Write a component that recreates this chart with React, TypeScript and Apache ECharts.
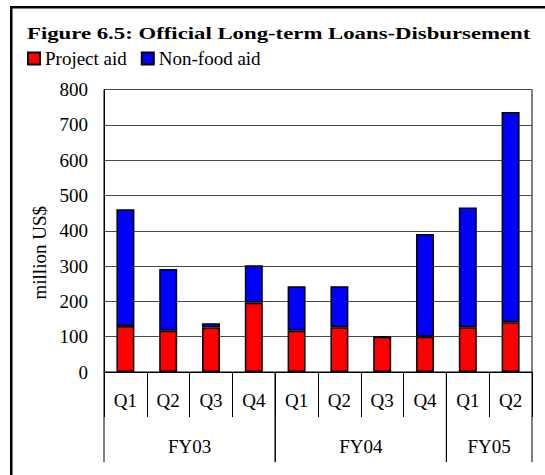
import React, { useEffect, useRef } from "react";
import * as echarts from "echarts";

const quarters = ["Q1", "Q2", "Q3", "Q4", "Q1", "Q2", "Q3", "Q4", "Q1", "Q2"];
const projectAid = [130, 117, 126, 196, 117, 127, 100, 100, 127, 141];
const nonFoodAid = [331, 175, 12, 106, 126, 116, 0, 291, 339, 595];
const fiscalYears = ["FY03", "FY04", "FY05"];
const quartersPerYear = [4, 4, 2];
const seriesNames = ["Project aid", "Non-food aid"];
const yTicks = { min: 0, max: 800, interval: 100 };

const FONT = "Liberation Serif";
const FS = 19;

export default function App() {
  const ref = useRef<HTMLDivElement>(null);

  useEffect(() => {
    if (!ref.current) return;
    const chart = echarts.init(ref.current, null, { renderer: "svg" });

    const groupData: number[][] = [];
    let start = 0;
    quartersPerYear.forEach((n) => {
      groupData.push([start, 0, start + n - 1]);
      start += n;
    });

    const legendText = { fontFamily: FONT, fontSize: FS, color: "#000", fontWeight: "normal" };

    chart.setOption({
      animation: false,
      backgroundColor: "#fff",
      textStyle: { fontFamily: FONT, color: "#000" },
      legend: {
        data: seriesNames.map((n) => ({ name: n, textStyle: legendText })),
        left: 27,
        top: 49,
        padding: 0,
        itemWidth: 12,
        itemHeight: 12,
        itemGap: 14,
        icon: "rect",
        textStyle: legendText,
      },
      graphic: [
        {
          type: "rect",
          silent: true,
          z: -10,
          shape: { x: 11.25, y: 7.25, width: 700, height: 700 },
          style: { fill: "none", stroke: "#000", lineWidth: 2.5 },
        },
        {
          type: "text",
          silent: true,
          x: 27,
          y: 25,
          scaleX: 1.34,
          style: {
            text: "Figure 6.5: Official Long-term Loans-Disbursement",
            fontFamily: FONT,
            fontSize: 17,
            fontWeight: "bold",
            fill: "#000",
            textAlign: "left",
            textVerticalAlign: "top",
          },
        },
      ],
      grid: {
        left: 104,
        right: 13,
        top: 89.5,
        bottom: 103,
        show: true,
        borderColor: "#000",
        borderWidth: 1,
        backgroundColor: "transparent",
      },
      xAxis: {
        type: "category",
        data: quarters,
        axisLine: { show: true, lineStyle: { color: "#000", width: 1 } },
        axisTick: { show: true, interval: 0, length: 45, lineStyle: { color: "#000", width: 1 } },
        axisLabel: { interval: 0, margin: 19, fontFamily: FONT, fontSize: FS, color: "#000" },
      },
      yAxis: {
        type: "value",
        min: yTicks.min,
        max: yTicks.max,
        interval: yTicks.interval,
        name: "million US$",
        nameLocation: "middle",
        nameRotate: 90,
        nameGap: 54,
        nameTextStyle: { fontFamily: FONT, fontSize: FS, color: "#000", padding: [0, 44, 0, 0] },
        axisLine: { show: true, lineStyle: { color: "#000", width: 1 } },
        axisTick: { show: false },
        axisLabel: { margin: 16, fontFamily: FONT, fontSize: FS, color: "#000" },
        splitLine: { show: true, lineStyle: { color: "#4a4a4a", width: 1 } },
      },
      series: [
        {
          name: seriesNames[0],
          type: "bar",
          stack: "total",
          barWidth: "42%",
          data: projectAid,
          itemStyle: { color: "#ff0000", borderColor: "#000", borderWidth: 1.5 },
        },
        {
          name: seriesNames[1],
          type: "bar",
          stack: "total",
          barWidth: "42%",
          data: nonFoodAid,
          itemStyle: { color: "#0000ff", borderColor: "#000", borderWidth: 1.5 },
        },
        {
          name: "fy",
          type: "custom",
          clip: false,
          silent: true,
          encode: { x: 0, y: 1 },
          data: groupData,
          renderItem: (params: any, api: any) => {
            const s = api.value(0);
            const e = api.value(2);
            const bw = api.size([1, 0])[0];
            const p0 = api.coord([s, 0]);
            const p1 = api.coord([e, 0]);
            const x0 = p0[0] - bw / 2;
            const x1 = p1[0] + bw / 2;
            const y = p0[1];
            return {
              type: "group",
              children: [
                { type: "line", shape: { x1: x0, y1: y, x2: x0, y2: y + 90 }, style: { stroke: "#000", lineWidth: 1 } },
                { type: "line", shape: { x1: x1, y1: y, x2: x1, y2: y + 90 }, style: { stroke: "#000", lineWidth: 1 } },
                {
                  type: "text",
                  style: {
                    text: fiscalYears[params.dataIndex],
                    x: (x0 + x1) / 2,
                    y: y + 74,
                    textAlign: "center",
                    textVerticalAlign: "middle",
                    fontFamily: FONT,
                    fontSize: FS,
                    fill: "#000",
                  },
                },
              ],
            };
          },
        },
      ],
    });

    return () => chart.dispose();
  }, []);

  return (
    <div
      ref={ref}
      style={{ position: "fixed", left: 0, top: 0, width: 545, height: 475, background: "#fff" }}
    />
  );
}
